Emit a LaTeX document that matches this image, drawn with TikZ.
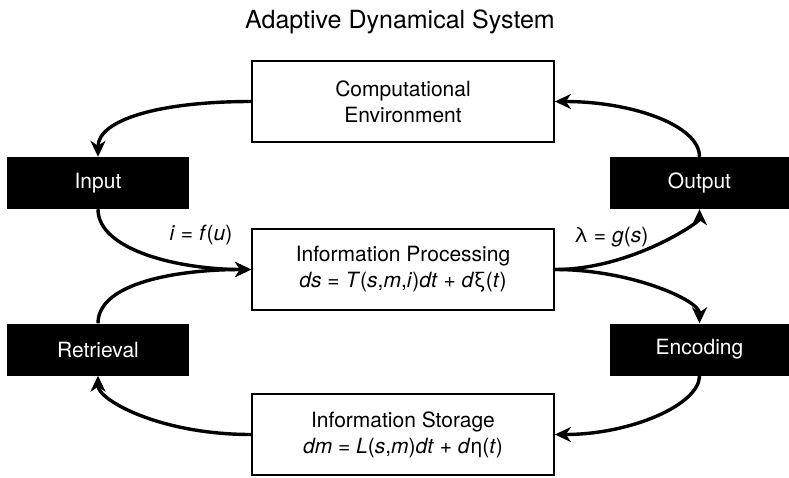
\documentclass[tikz,border=0pt]{standalone}
\usepackage{fontspec}
\setmainfont{TeX Gyre Heros}
\usetikzlibrary{arrows.meta}
\begin{document}
\begin{tikzpicture}[x=1pt,y=-1pt,
  wbox/.style={draw=black, line width=1.8pt, fill=white, minimum width=302pt, minimum height=81pt, align=center, font=\fontsize{21}{26}\selectfont, inner sep=0pt},
  bbox/.style={fill=black, text=white, minimum width=182pt, minimum height=52pt, font=\fontsize{21}{25}\selectfont, inner sep=0pt},
  flow/.style={line width=3.4pt, -{Stealth[length=16pt,width=15pt,inset=5pt]}},
  lbl/.style={font=\fontsize{21}{25}\selectfont, inner sep=0pt}]
\useasboundingbox (0,0) rectangle (789,477);
\node[font=\fontsize{25}{30}\selectfont, anchor=base, inner sep=0pt] (title) at (400,28) {Adaptive Dynamical System};
\node[wbox] (env) at (403,101.5) {Computational\\Environment};
\node[wbox] (proc) at (403,269.5) {Information Processing\\\textit{ds} = \textit{T}(\textit{s},\textit{m},\textit{i})\textit{dt} + \textit{d}ξ(\textit{t})};
\node[wbox] (stor) at (403,434.5) {Information Storage\\\textit{dm} = \textit{L}(\textit{s},\textit{m})\textit{dt} + \textit{d}η(\textit{t})};
\node[bbox] (in) at (98,183) {Input};
\node[bbox] (ret) at (98,349.5) {Retrieval};
\node[bbox, minimum width=179pt] (out) at (699.5,183) {Output};
\node[bbox, minimum width=179pt] (enc) at (699.5,349.5) {Encoding};
\node[lbl] (lf) at (201,235) {\textit{i} = \textit{f}(\textit{u})};
\node[lbl] (lg) at (611,237) {λ = \textit{g}(\textit{s})};
\draw[flow] (env.west) .. controls +(-92,0) and +(0,-37) .. (in.north);
\draw[flow] (in.south) .. controls +(0,41) and +(-72,0) .. (proc.west);
\draw[flow] (ret.north) .. controls +(0,-41) and +(-72,0) .. (proc.west);
\draw[flow] (stor.west) .. controls +(-92,0) and +(0,24) .. (ret.south);
\draw[flow] (proc.east) .. controls +(76,0) and +(0,13) .. (out.south);
\draw[flow] (out.north) .. controls +(0,-32) and +(76,0) .. (env.east);
\draw[flow] (proc.east) .. controls +(76,0) and +(0,-23) .. (enc.north);
\draw[flow] (enc.south) .. controls +(0,29) and +(76,0) .. (stor.east);
\end{tikzpicture}
\end{document}
